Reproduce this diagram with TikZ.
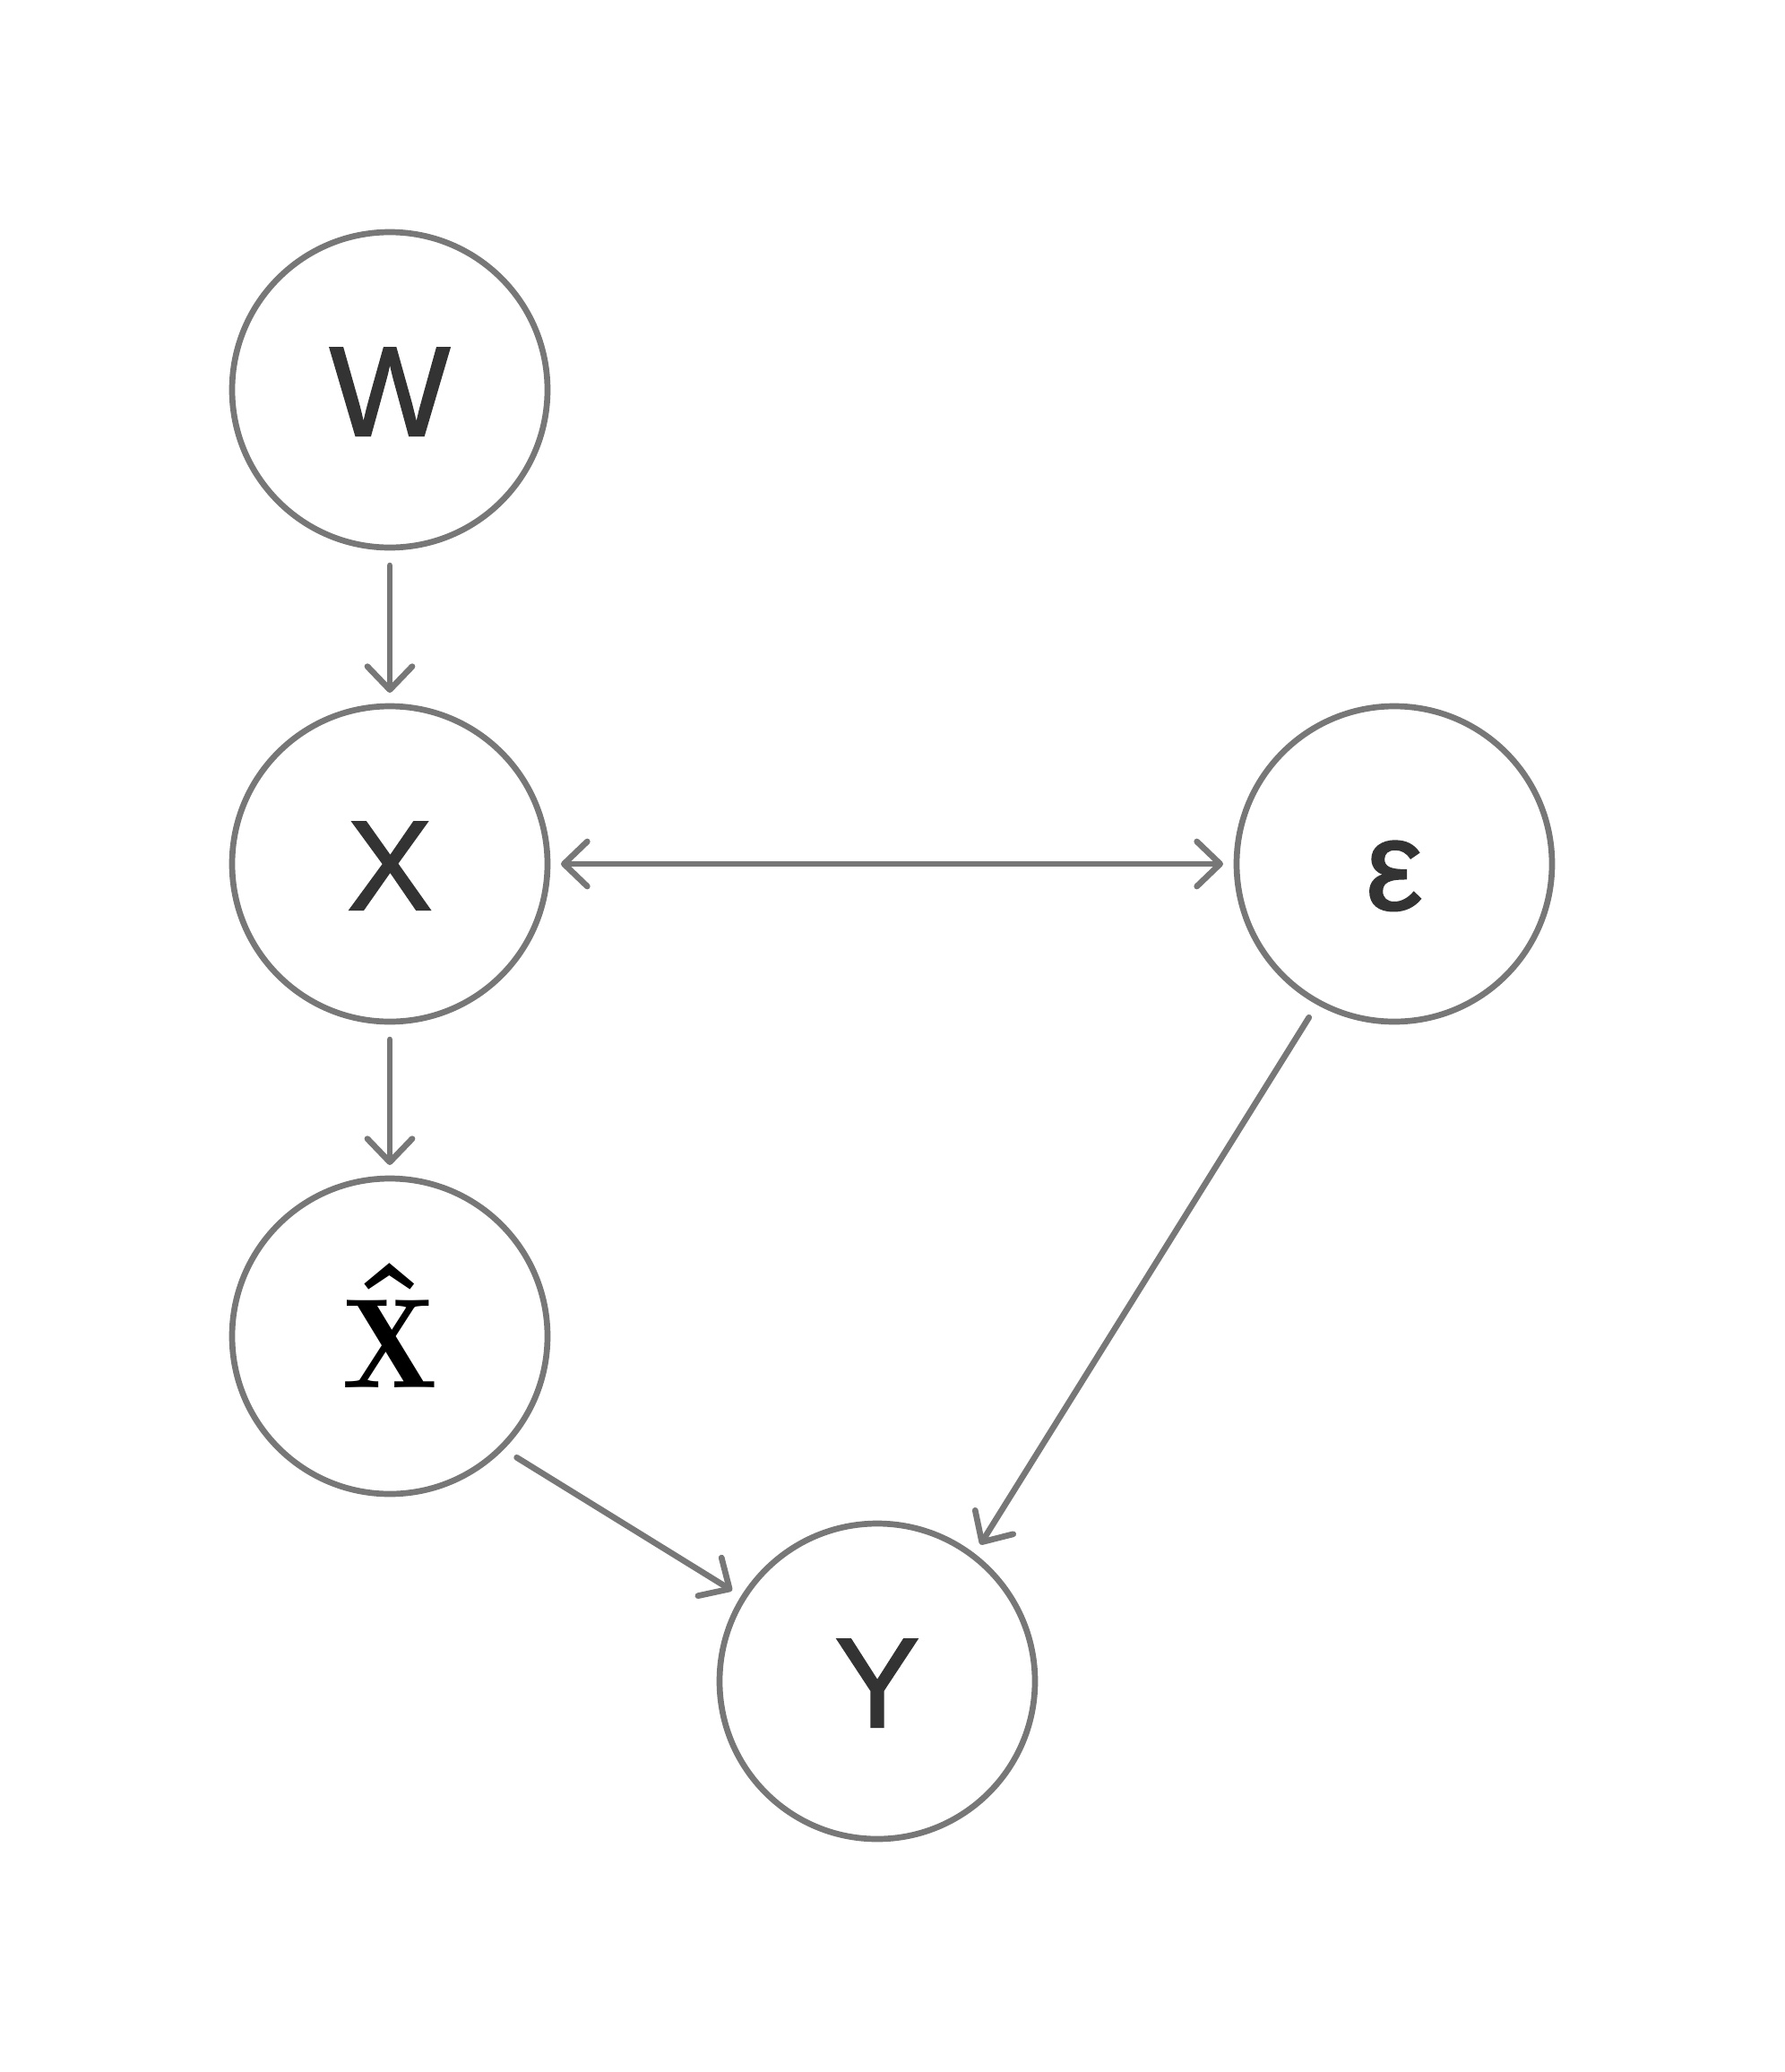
\documentclass[tikz,border=0pt]{standalone}
\usepackage{fix-cm}
\usepackage{fontspec}
\usepackage{tikz}
\usetikzlibrary{arrows.meta}
\newfontfamily\nodefont{Liberation Sans}[FakeBold=1.5]
\newcommand{\cmbold}{\fontencoding{OT1}\fontfamily{cmr}\fontseries{bx}\fontshape{n}}
\definecolor{edgegray}{HTML}{777777}
\definecolor{textgray}{HTML}{333333}
\tikzset{
  var/.style={circle, draw=edgegray, line width=0.067cm, minimum size=3.52cm,
    inner sep=0pt, outer sep=0.15cm, text=textgray, text height=1.02cm, text depth=0cm,
    font=\nodefont\fontsize{40.5}{48}\selectfont},
  link/.style={draw=edgegray, line width=0.067cm, line cap=round, ->, shorten <=0.05cm},
  >={Straight Barb[length=0.26cm, width=0.5cm, round]}
}

\begin{document}
\begin{tikzpicture}
    \useasboundingbox (0cm,0cm) rectangle (19.92cm,-23.12cm);
    \node[var] (W)   at ( 4.35cm, -4.35cm) {W};
    \node[var] (X)   at ( 4.35cm, -9.64cm) {X};
    \node[var, text=black, text height=1.14cm] (Xh) at ( 4.35cm,-14.91cm)
      {\makebox[0pt]{$\mathbf{X}$}\makebox[0pt]{\raisebox{0.12cm}{\cmbold\fontsize{52}{60}\selectfont\char"5E}}};
    \node[var] (eps) at (15.56cm, -9.64cm) {ε};
    \node[var] (Y)   at ( 9.79cm,-18.76cm) {Y};
    \draw[link] (W) -- (X);
    \draw[link] (X) -- (Xh);
    \draw[link, <->, shorten <=0cm] (X) -- (eps);
    \draw[link] (Xh.-44) -- (Y.148);
    \draw[link] (eps.241) -- (Y.53);
\end{tikzpicture}
\end{document}
